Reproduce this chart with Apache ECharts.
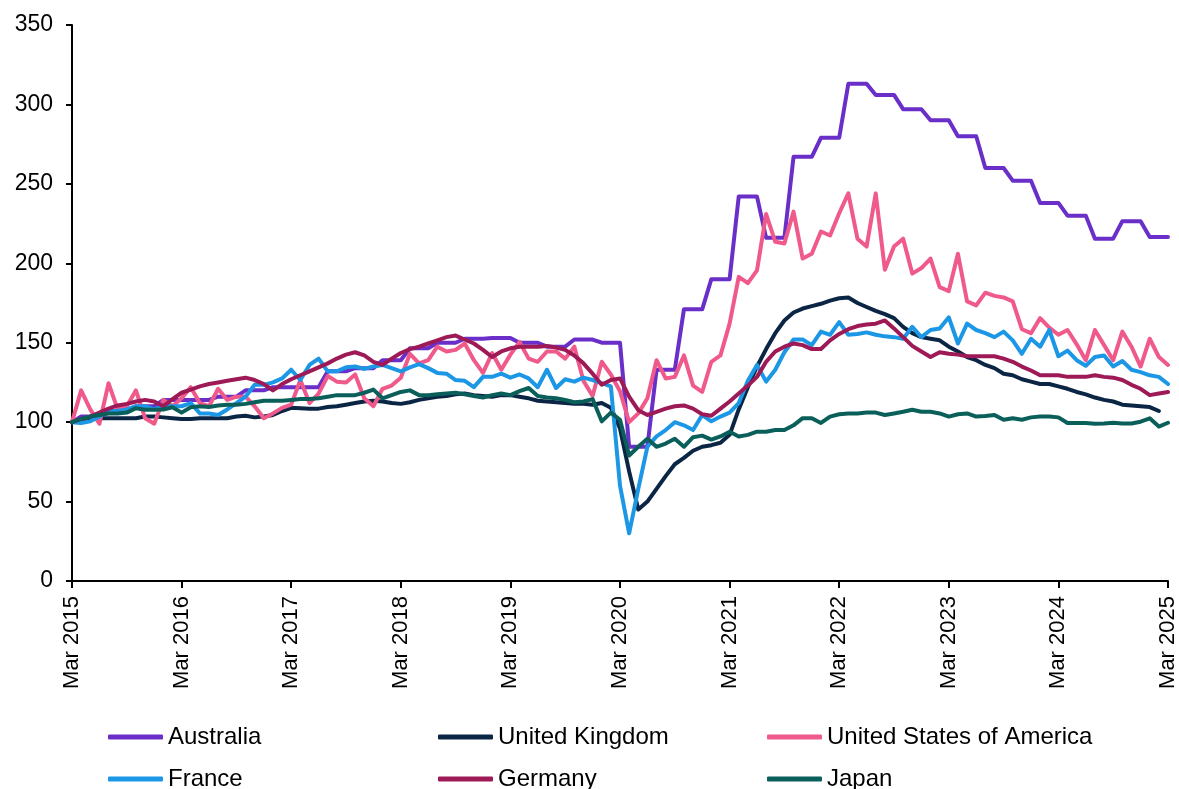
<!DOCTYPE html>
<html>
<head>
<meta charset="utf-8">
<title>Index chart</title>
<script src="https://cdn.jsdelivr.net/npm/echarts@6/dist/echarts.min.js"></script>
<style>
    html, body { margin: 0; padding: 0; background: #fff; }
    #chart { width: 1179px; height: 789px; }
</style>
</head>
<body>
<div id="chart"></div>
<script>
// 月份标签: Mar 2015 .. Mar 2025
var monthNames = ['Jan', 'Feb', 'Mar', 'Apr', 'May', 'Jun', 'Jul', 'Aug', 'Sep', 'Oct', 'Nov', 'Dec'];
var categories = [];
for (var i = 0; i <= 120; i++) {
    var m = (2 + i) % 12;
    var y = 2015 + Math.floor((2 + i) / 12);
    categories.push(monthNames[m] + ' ' + y);
}

var yTicks = { min: 0, max: 350, step: 50 };

var australia = [
    100,
    103.5, 103.5, 103.5, 107, 107, 107, 110, 110, 110, 114, 114, 114,
    114, 114, 114, 116, 116, 116, 120, 120, 120, 122, 122, 122,
    122, 122, 122, 132, 132, 132, 134, 134, 134, 139, 139, 139,
    146.5, 146.5, 146.5, 150, 150, 150, 152.5, 152.5, 152.5, 153, 153, 153,
    150, 150, 150, 147.5, 147.5, 147.5, 152, 152, 152, 150, 150, 150,
    84.5, 84.5, 84.5, 133, 133, 133, 171, 171, 171, 190, 190, 190,
    242, 242, 242, 216, 216, 216, 267, 267, 267, 279, 279, 279,
    313, 313, 313, 306, 306, 306, 297, 297, 297, 290, 290, 290,
    280, 280, 280, 260, 260, 260, 252, 252, 252, 238, 238, 238,
    230, 230, 230, 215.5, 215.5, 215.5, 226.5, 226.5, 226.5, 216.5, 216.5, 216.5
];

var unitedKingdom = [
    100, 101.5, 102.5, 102.5, 102.5, 102.5, 102.5, 102.5, 103.5, 103.5, 103, 102.5,
    102, 102, 102.5, 102.5, 102.5, 102.5, 103.5, 104, 103, 103.5, 104.5, 107,
    109, 108.8, 108.5, 108.5, 109.5, 110, 111, 112, 113, 113.5, 113, 112,
    111.5, 112.5, 114, 115, 116, 116.5, 117.5, 118, 117, 116.5, 116, 117,
    117, 116, 115, 113.5, 113, 112.5, 112, 111.5, 111.5, 111, 112, 109,
    96, 69, 45, 50, 58, 66, 73.5, 77.5, 82, 84.5, 85.5, 87,
    92, 108, 122, 135, 146, 156, 164, 169, 171.5, 173, 174.5, 176.5,
    178, 178.5, 175, 172.5, 170, 168, 165.5, 160, 156, 153.5, 152.5, 151.5,
    147.5, 144.5, 141, 139, 136, 134, 130.5, 129.5, 127, 125.5, 124, 124,
    122.5, 121, 119, 117.5, 115.5, 114, 113, 111, 110.5, 110, 109.5, 107,
    null
];

var unitedStates = [
    100, 120, 108, 99, 124.5, 108, 110, 120, 102.5, 99, 114, 110,
    115, 122, 112, 110, 121, 114, 116, 116, 110, 102.5, 105.5, 109,
    111, 126.5, 112, 118, 129, 125.5, 125, 130, 115, 110, 121, 123,
    128, 143, 137, 139, 147.5, 144.5, 145.5, 149.5, 139, 131, 143.5, 133,
    142.5, 150.5, 140, 138, 144.5, 144.5, 140, 147.5, 126, 116.5, 138, 130,
    119.5, 100, 105.5, 115, 139, 127.5, 128.5, 142, 123, 119, 138, 142,
    162, 191.5, 187.5, 195.5, 231, 213.5, 212.5, 232.5, 203, 206, 220, 217.5,
    231.5, 244, 215.5, 210.5, 244, 196, 210.5, 215.5, 193.5, 197, 203, 185,
    182.5, 206, 176, 173.5, 181.5, 179.5, 178.5, 176, 158.5, 156, 165.5, 159.5,
    155, 158, 149, 139, 158, 148.5, 139, 157, 147.5, 135, 152.5, 141,
    136
];

var france = [
    100, 99.5, 100.5, 103.5, 107, 107, 108, 110, 110, 108, 110.5, 110,
    110, 112, 105.5, 105.5, 104.5, 108, 112, 116, 123.5, 123.5, 125, 127.5,
    133, 126.5, 136, 140, 132, 132, 134.5, 135, 133.5, 135, 136, 134,
    132, 134.5, 136.5, 134, 131, 130.5, 126.5, 126, 122, 128.5, 128.5, 130.5,
    128, 130, 127.5, 122, 133, 121.5, 127, 125.5, 128, 126.5, 124.5, 122.5,
    60, 30, 58, 84.5, 91, 95, 100, 98, 95, 104.5, 100.5, 103.5,
    106, 112, 126, 136, 125.5, 133, 144, 152, 152, 148.5, 157, 155,
    163, 155, 155.5, 156.5, 155, 154, 153.5, 152.5, 160, 153.5, 158, 159,
    166, 149.5, 162, 158, 156, 153.5, 157, 151.5, 143, 152.5, 147.5, 158,
    141.5, 145, 139, 135.5, 141, 142, 135, 138.5, 133, 131.5, 129.5, 128.5,
    124
];

var germany = [
    100, 102, 103.5, 106, 108.5, 110.5, 111.5, 113, 114, 113, 110, 114.5,
    118.5, 120.5, 122.5, 124, 125, 126, 127, 128, 126.5, 124, 120, 124,
    127, 129.5, 132, 134.5, 137, 140, 142.5, 144, 142, 138, 136, 140,
    143.5, 146, 147.5, 149.5, 151.5, 153.5, 154.5, 152, 149.5, 145.5, 141, 144.5,
    146.5, 147.5, 147.5, 147.5, 148, 147, 145.5, 142, 137, 130.5, 123.5, 126.5,
    127.5, 116, 107.5, 104.5, 106.5, 108.5, 110, 110.5, 108.5, 105, 104, 108.5,
    113, 118, 123, 128.5, 138, 144.5, 147.5, 149.5, 148.5, 146, 146, 151.5,
    155.5, 158.5, 160.5, 161.5, 162, 164, 159, 153.5, 148, 144.5, 141, 144,
    143, 142.5, 141.5, 141.5, 141.5, 141.5, 140, 138, 135, 132.5, 129.5, 129.5,
    129.5, 128.5, 128.5, 128.5, 129.5, 128.5, 128, 126.5, 123.5, 121, 117, 118,
    119
];

var japan = [
    100, 102, 103.5, 104.5, 105.5, 105.5, 106, 108.8, 107.8, 107.8, 108, 109.4,
    106, 109.4, 110, 109.5, 110.5, 111, 111, 111.5, 112.5, 113.5, 113.5, 113.5,
    114, 114.5, 114.5, 115, 116, 117, 117, 117, 118.5, 120.5, 115, 117,
    119, 120, 117, 117, 117.5, 118, 118.5, 117.5, 116.5, 115.5, 117, 118,
    117, 119.5, 121.5, 116.5, 115.5, 115, 114, 112.5, 113, 114.5, 100.5, 106,
    101.5, 79, 84.5, 89.5, 84.5, 86.5, 89.5, 84.5, 90.5, 91.5, 89, 91,
    94, 91, 92, 94, 94, 95, 95, 98, 102.5, 102.5, 99.5, 103.5,
    105, 105.5, 105.5, 106, 106, 104.5, 105.5, 106.5, 107.8, 106.5, 106.5, 105.5,
    103.5, 105, 105.5, 103.5, 103.8, 104.5, 101.5, 102.5, 101.5, 103, 103.5, 103.5,
    103, 99.5, 99.5, 99.5, 99, 99.2, 99.6, 99.2, 99.2, 100.3, 102.4, 97.2,
    99.6
];

var seriesNames = ['Australia', 'United Kingdom', 'United States of America', 'France', 'Germany', 'Japan'];
var seriesData = [australia, unitedKingdom, unitedStates, france, germany, japan];
var seriesColors = ['#6a2fc8', '#0b2545', '#ef5a8b', '#1c97e6', '#9e1a56', '#0b5f5b'];

(function () {
    var myChart = echarts.init(document.getElementById('chart'));
    var fontFamily = 'Liberation Sans, Arial, sans-serif';

    var series = [];
    for (var i = 0; i < seriesNames.length; i++) {
        series.push({
            name: seriesNames[i],
            type: 'line',
            data: seriesData[i],
            showSymbol: false,
            symbol: 'none',
            lineStyle: { width: 4, color: seriesColors[i], cap: 'round', join: 'round' },
            itemStyle: { color: seriesColors[i] },
            emphasis: { disabled: true }
        });
    }

    // 图例: 两行三列
    var legendLeft = [108, 438, 767];
    var legendTop = [725, 767];
    var legends = [];
    for (var k = 0; k < seriesNames.length; k++) {
        legends.push({
            data: [seriesNames[k]],
            left: legendLeft[k % 3],
            top: legendTop[Math.floor(k / 3)],
            icon: 'roundRect',
            itemWidth: 55,
            itemHeight: 5,
            padding: 0,
            selectedMode: false,
            textStyle: { fontSize: 24, color: '#000', fontFamily: fontFamily, padding: [0, 0, 0, 0] }
        });
    }

    var option = {
        animation: false,
        backgroundColor: '#fff',
        grid: { left: 72, right: 10, top: 25, bottom: 208, containLabel: false },
        legend: legends,
        xAxis: {
            type: 'category',
            data: categories,
            boundaryGap: false,
            axisLine: { lineStyle: { color: '#000', width: 2 } },
            axisTick: { interval: 11, length: 7, lineStyle: { color: '#000', width: 2 } },
            axisLabel: {
                interval: 11,
                rotate: 90,
                margin: 15,
                fontSize: 22,
                color: '#000',
                fontFamily: fontFamily
            },
            splitLine: { show: false }
        },
        yAxis: {
            type: 'value',
            min: yTicks.min,
            max: yTicks.max,
            interval: yTicks.step,
            axisLine: { show: true, lineStyle: { color: '#000', width: 2 } },
            axisTick: { show: true, length: 6, lineStyle: { color: '#000', width: 2 } },
            axisLabel: { fontSize: 23, color: '#000', margin: 19, fontFamily: fontFamily },
            splitLine: { show: false }
        },
        series: series
    };

    myChart.setOption(option);

    window.addEventListener('resize', function () {
        myChart.resize();
    });
})();
</script>
</body>
</html>
